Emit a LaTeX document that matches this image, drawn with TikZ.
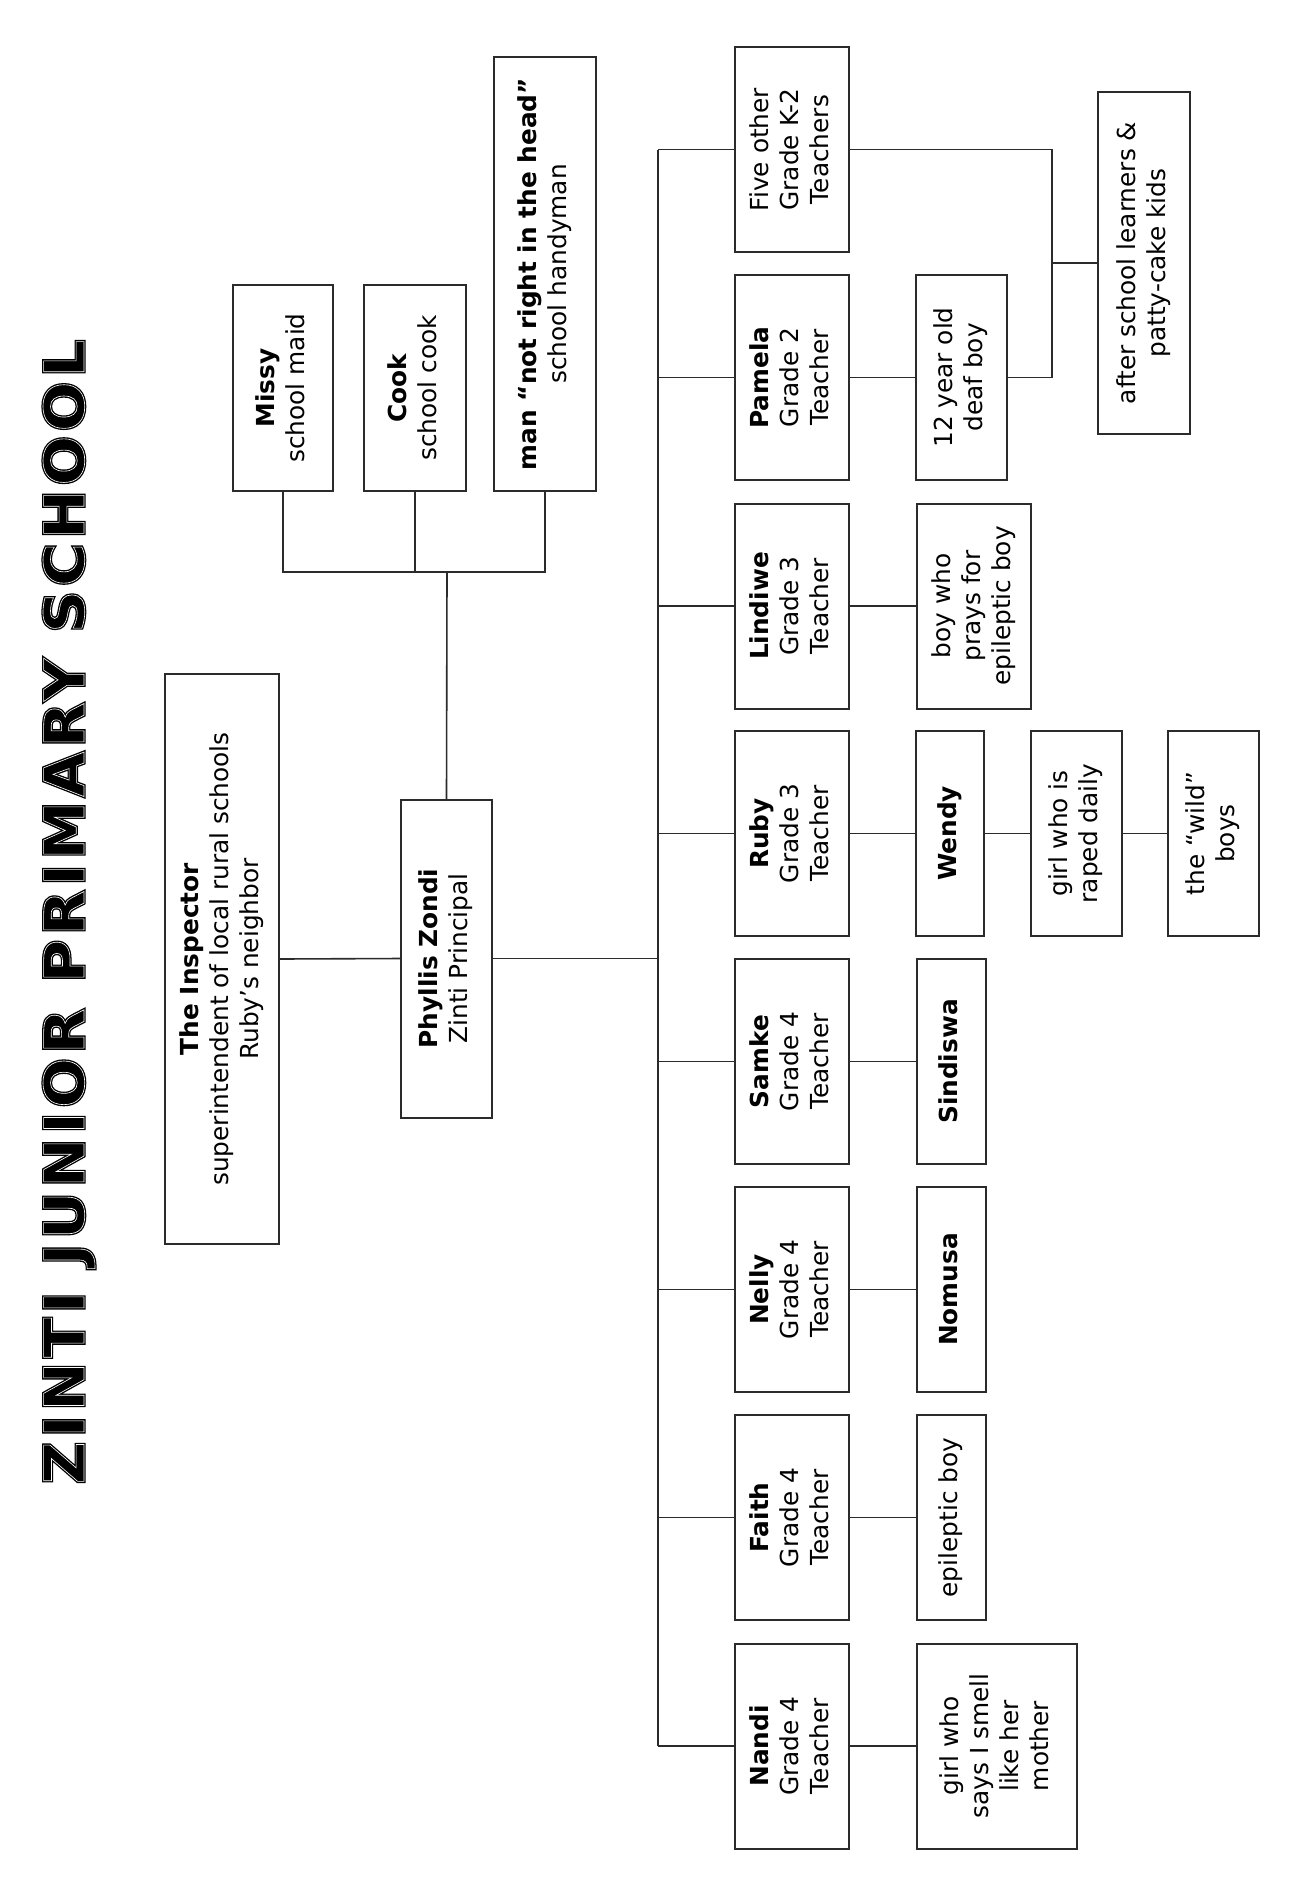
\documentclass[tikz,border=0pt]{standalone}
\usepackage{fontspec}
\setmainfont{DejaVu Sans}
\newfontface\titlefont{DejaVu Sans Bold}[LetterSpace=8]
\usepackage{graphicx}
\definecolor{ln}{HTML}{2B2B2B}
\tikzset{
  box/.style={draw=ln, line width=1pt, inner sep=0pt, outer sep=0pt, fill=white,
    font=\fontsize{12.4}{15}\selectfont},
  wire/.style={draw=ln, line width=0.8pt},
}
\newcommand\rt[1]{\rotatebox{90}{\begin{tabular}{@{}c@{}}#1\end{tabular}}}
\newcommand\ttlfx[1]{\rlap{\special{pdf:literal direct 2 Tr 1.6 w}#1\special{pdf:literal direct 0 Tr}}{\color{white}\special{pdf:literal direct 1 Tr 0.3 w}#1\special{pdf:literal direct 0 Tr}}}
\begin{document}
\begin{tikzpicture}[x=0.5pt,y=-0.5pt]
\useasboundingbox[fill=white] (0,0) rectangle (1305,1901);

% title
\node[inner sep=0pt] (title) at (69,912) {\rotatebox{90}{\resizebox{572pt}{20.5pt}{\titlefont\fontsize{28}{30}\selectfont\ttlfx{ZINTI\hspace{0.45em}JUNIOR\hspace{0.45em}PRIMARY\hspace{0.45em}SCHOOL}}}};

% staff
\node[box, minimum width=50pt, minimum height=103pt] (missy) at (283,388) {\rt{\textbf{Missy}\\school maid}};
\node[box, minimum width=51pt, minimum height=103pt] (cook) at (415,388) {\rt{\textbf{Cook}\\school cook}};
\node[box, minimum width=51pt, minimum height=217pt] (handy) at (545,274) {\rt{\textbf{man “not right in the head”}\\school handyman}};

\node[box, minimum width=57pt, minimum height=285pt] (insp) at (222,959) {\rt{\textbf{The Inspector}\\superintendent of local rural schools\\Ruby’s neighbor}};
\node[box, minimum width=45.5pt, minimum height=159pt] (phyl) at (446.5,958.5) {\rt{\textbf{Phyllis Zondi}\\Zinti Principal}};

% teachers
\node[box, minimum width=57pt, minimum height=102.5pt] (five) at (792,149.5) {\rt{Five other\\Grade K-2\\Teachers}};
\node[box, minimum width=57pt, minimum height=102.5pt] (pam) at (792,377.5) {\rt{\textbf{Pamela}\\Grade 2\\Teacher}};
\node[box, minimum width=57pt, minimum height=102.5pt] (lin) at (792,606) {\rt{\textbf{Lindiwe}\\Grade 3\\Teacher}};
\node[box, minimum width=57pt, minimum height=102.5pt] (ruby) at (792,833.5) {\rt{\textbf{Ruby}\\Grade 3\\Teacher}};
\node[box, minimum width=57pt, minimum height=102.5pt] (samke) at (792,1061.5) {\rt{\textbf{Samke}\\Grade 4\\Teacher}};
\node[box, minimum width=57pt, minimum height=102.5pt] (nelly) at (792,1289.5) {\rt{\textbf{Nelly}\\Grade 4\\Teacher}};
\node[box, minimum width=57pt, minimum height=102.5pt] (faith) at (792,1517.5) {\rt{\textbf{Faith}\\Grade 4\\Teacher}};
\node[box, minimum width=57pt, minimum height=102.5pt] (nandi) at (792,1746) {\rt{\textbf{Nandi}\\Grade 4\\Teacher}};

% pupils
\node[box, minimum width=45.5pt, minimum height=102.5pt] (deaf) at (961.5,377.5) {\rt{12 year old\\deaf boy}};
\node[box, minimum width=57pt, minimum height=102.5pt] (prays) at (974,606) {\rt{boy who\\prays for\\epileptic boy}};
\node[box, minimum width=34pt, minimum height=102.5pt] (wendy) at (950,833.5) {\rt{\textbf{Wendy}}};
\node[box, minimum width=34.5pt, minimum height=102.5pt] (sind) at (951.5,1061.5) {\rt{\textbf{Sindiswa}}};
\node[box, minimum width=34.5pt, minimum height=102.5pt] (nomusa) at (951.5,1289.5) {\rt{\textbf{Nomusa}}};
\node[box, minimum width=34.5pt, minimum height=102.5pt] (epboy) at (951.5,1517.5) {\rt{epileptic boy}};
\node[box, minimum width=80pt, minimum height=102.5pt] (smell) at (997,1746) {\rt{girl who\\says I smell\\like her\\mother}};
\node[box, minimum width=45.5pt, minimum height=102.5pt] (raped) at (1076.5,833.5) {\rt{girl who is\\raped daily}};
\node[box, minimum width=45.5pt, minimum height=102.5pt] (wild) at (1213.5,833.5) {\rt{the “wild”\\boys}};
\node[box, minimum width=46pt, minimum height=171pt] (after) at (1144,263) {\rt{after school learners \&\\patty-cake kids}};

% connectors: staff
\coordinate (sj) at (447,572);
\draw[wire] (missy.south) |- (sj) -| (handy.south);
\draw[wire] (cook.south) -- (cook.south |- sj);
\draw[wire] (phyl.north) -- (sj);
\draw[wire] (insp.east) -- (phyl.west);

% trunk
\coordinate (tx) at (658,0);
\draw[wire] (phyl.east) -- (phyl.east -| tx);
\draw[wire] (five.west -| tx) -- (nandi.west -| tx);
\foreach \t in {five,pam,lin,ruby,samke,nelly,faith,nandi}
  \draw[wire] (\t.west) -- (\t.west -| tx);

% teachers to pupils
\draw[wire] (pam.east) -- (deaf.west);
\draw[wire] (lin.east) -- (prays.west);
\draw[wire] (ruby.east) -- (wendy.west);
\draw[wire] (samke.east) -- (sind.west);
\draw[wire] (nelly.east) -- (nomusa.west);
\draw[wire] (faith.east) -- (epboy.west);
\draw[wire] (nandi.east) -- (smell.west);
\draw[wire] (wendy.east) -- (raped.west);
\draw[wire] (raped.east) -- (wild.west);

% after school
\coordinate (aj) at (1052,263);
\draw[wire] (five.east) -| (aj) |- (deaf.east);
\draw[wire] (aj) -- (after.west);
\end{tikzpicture}
\end{document}
